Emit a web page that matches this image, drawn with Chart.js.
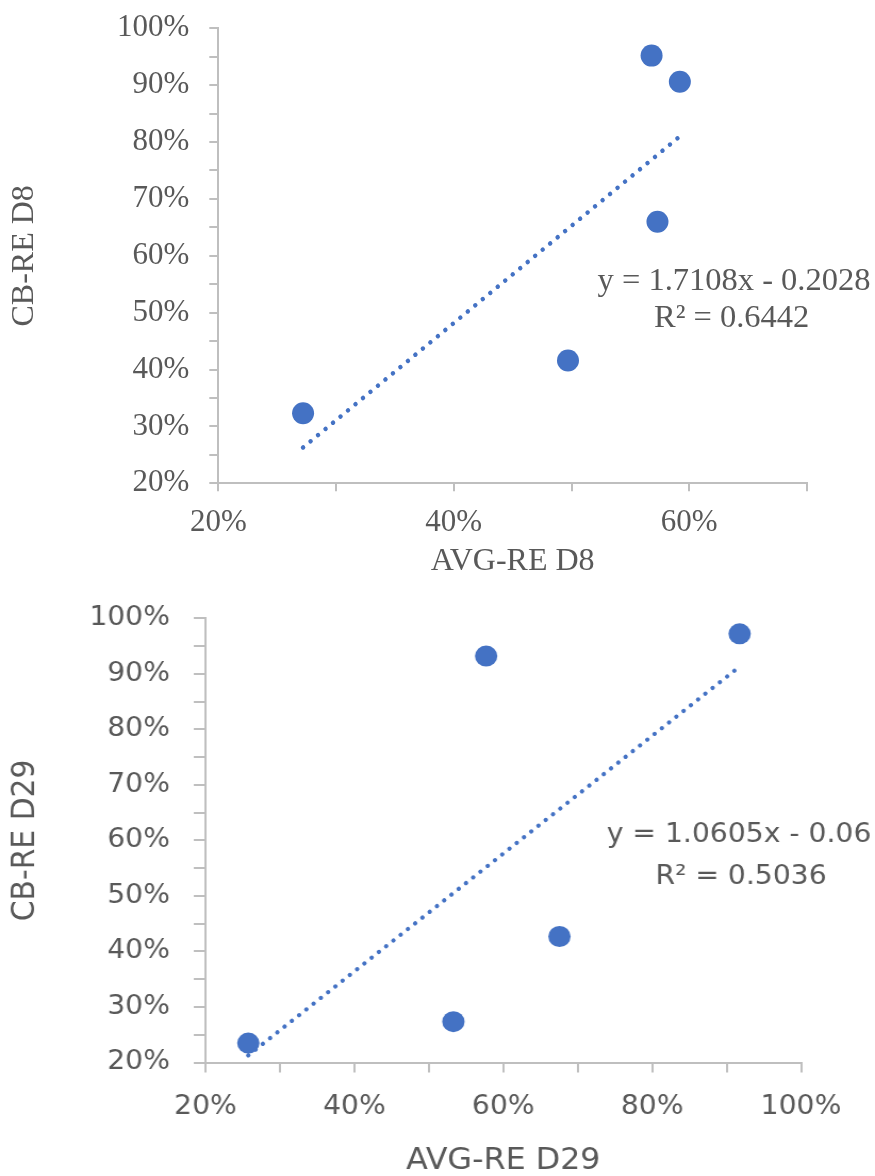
<!DOCTYPE html>
<html>
<head>
<meta charset="utf-8">
<script src="https://cdn.jsdelivr.net/npm/chart.js@4.4.1/dist/chart.umd.min.js"></script>
<style>
  html, body { margin: 0; padding: 0; background: #fff; width: 875px; height: 1176px; overflow: hidden; }
  #top { position: absolute; left: 0; top: 0; width: 875px; height: 590px; }
  #bot { position: absolute; left: 0; top: 590px; width: 822px; height: 586px; transform: scaleX(1.06448); transform-origin: 0 0; }
</style>
</head>
<body>
<div id="top"><canvas id="c1" width="875" height="590"></canvas></div>
<div id="bot"><canvas id="c2" width="822" height="586"></canvas></div>
<script>
// ---------------- data ----------------
const d8AvgRe = [0.272, 0.497, 0.568, 0.592, 0.573];
const d8CbRe  = [0.323, 0.416, 0.952, 0.906, 0.660];
const d8TrendX = [0.272, 0.592];
const d8TrendY = [0.263, 0.810];
const d8EqLines = ['y = 1.7108x - 0.2028', 'R\u00B2 = 0.6442'];

const d29AvgRe = [0.2575, 0.533, 0.577, 0.6755, 0.9175];
const d29CbRe  = [0.235, 0.2735, 0.932, 0.427, 0.972];
const d29TrendX = [0.2575, 0.9175];
const d29TrendY = [0.213, 0.913];
const d29EqLines = ['y = 1.0605x - 0.06', 'R\u00B2 = 0.5036'];

const d8XTitle = 'AVG-RE D8', d8YTitle = 'CB-RE D8';
const d29XTitle = 'AVG-RE D29', d29YTitle = 'CB-RE D29';

// ---------------- styles ----------------
const BLUE = '#4472C4';
const TXT = '#595959';
const AX = '#BFBFBF';

function pts(xs, ys) { return xs.map((x, i) => ({ x: x, y: ys[i] })); }
function pctEvery(step) {
  return v => { const p = Math.round(v * 100); return p % step === 0 ? p + '%' : ''; };
}
function eqPlugin(lines, ax, ay, font) {
  return {
    id: 'eqLabel',
    afterDatasetsDraw(chart) {
      const { ctx, scales } = chart;
      ctx.save();
      ctx.font = font;
      ctx.fillStyle = TXT;
      ctx.textAlign = 'center';
      ctx.textBaseline = 'middle';
      lines.forEach((t, i) => ctx.fillText(t, scales.x.getPixelForValue(ax[i]), scales.y.getPixelForValue(ay[i])));
      ctx.restore();
    }
  };
}

function makeChart(canvas, cfg) {
  return new Chart(canvas, {
    type: 'scatter',
    data: {
      datasets: [
        {
          data: pts(cfg.tx, cfg.ty), showLine: true, borderColor: BLUE, borderWidth: cfg.dotW,
          borderDash: [0.01, cfg.dotGap], borderCapStyle: 'round', pointRadius: 0, fill: false, clip: false
        },
        {
          data: pts(cfg.xs, cfg.ys), showLine: false, pointRadius: cfg.r, pointBackgroundColor: BLUE,
          pointBorderWidth: 0, pointHoverRadius: cfg.r, clip: false
        }
      ]
    },
    options: {
      responsive: false, animation: false, events: [],
      layout: { padding: { top: cfg.top, right: cfg.right, left: 0, bottom: 0 } },
      plugins: { legend: { display: false }, tooltip: { enabled: false } },
      scales: {
        x: {
          type: 'linear', min: 0.2, max: cfg.xMax,
          afterFit: s => { s.height = cfg.xH; s.paddingLeft = 0; s.paddingRight = 0; },
          border: { color: AX, width: 2 },
          grid: { drawOnChartArea: false, drawTicks: true, tickLength: cfg.xTl, color: AX, lineWidth: 2 },
          ticks: { stepSize: 0.1, autoSkip: false, maxRotation: 0, padding: cfg.xPad, color: TXT,
                   font: { family: cfg.family, size: cfg.tickSize }, callback: pctEvery(20) },
          title: { display: true, text: cfg.xTitle, color: TXT,
                   font: { family: cfg.family, size: cfg.titleSize, lineHeight: cfg.xTitleLH },
                   padding: { top: 0, bottom: cfg.xTitlePad } }
        },
        y: {
          type: 'linear', min: 0.2, max: 1.0,
          afterFit: s => { s.width = cfg.yW; s.paddingTop = 0; s.paddingBottom = 0; },
          border: { color: AX, width: 2 },
          grid: { drawOnChartArea: false, drawTicks: true, tickLength: cfg.yTl, color: AX, lineWidth: 2 },
          ticks: { stepSize: 0.05, autoSkip: false, padding: cfg.yPad, color: TXT,
                   font: { family: cfg.family, size: cfg.tickSize }, callback: pctEvery(10) },
          title: { display: true, text: cfg.yTitle, color: TXT,
                   font: { family: cfg.family, size: cfg.titleSize },
                   padding: { top: cfg.yTitlePad, bottom: 0 } }
        }
      }
    },
    plugins: [eqPlugin(cfg.eq, cfg.eqX, cfg.eqY, cfg.eqFont)]
  });
}

makeChart(document.getElementById('c1'), {
  xs: d8AvgRe, ys: d8CbRe, tx: d8TrendX, ty: d8TrendY, eq: d8EqLines,
  xTitle: d8XTitle, yTitle: d8YTitle,
  family: '"Liberation Serif", "Times New Roman", serif', tickSize: 31, titleSize: 32,
  eqFont: '32.5px "Liberation Serif", serif', eqX: [0.638, 0.636], eqY: [0.5544, 0.4895],
  xMax: 0.7, top: 28.3, right: 68, xH: 590 - 483.3, yW: 218.3,
  xTl: 8, xPad: 13, yTl: 9, yPad: 20, xTitleLH: 1.2, xTitlePad: 8.8, yTitlePad: 5,
  r: 11, dotW: 4.5, dotGap: 9.7
});

makeChart(document.getElementById('c2'), {
  xs: d29AvgRe, ys: d29CbRe, tx: d29TrendX, ty: d29TrendY, eq: d29EqLines,
  xTitle: d29XTitle, yTitle: d29YTitle,
  family: '"DejaVu Sans", sans-serif', tickSize: 26.5, titleSize: 29.8,
  eqFont: '26.5px "DejaVu Sans", sans-serif', eqX: [0.9167, 0.9194], eqY: [0.6097, 0.534],
  xMax: 1.0, top: 28.3, right: 69.5, xH: 586 - 472.5, yW: 193.05,
  xTl: 10, xPad: 18.6, yTl: 11, yPad: 22.4, xTitleLH: 1.0, xTitlePad: 0, yTitlePad: 6.5,
  r: 10.5, dotW: 4.2, dotGap: 8.9
});
</script>
</body>
</html>
